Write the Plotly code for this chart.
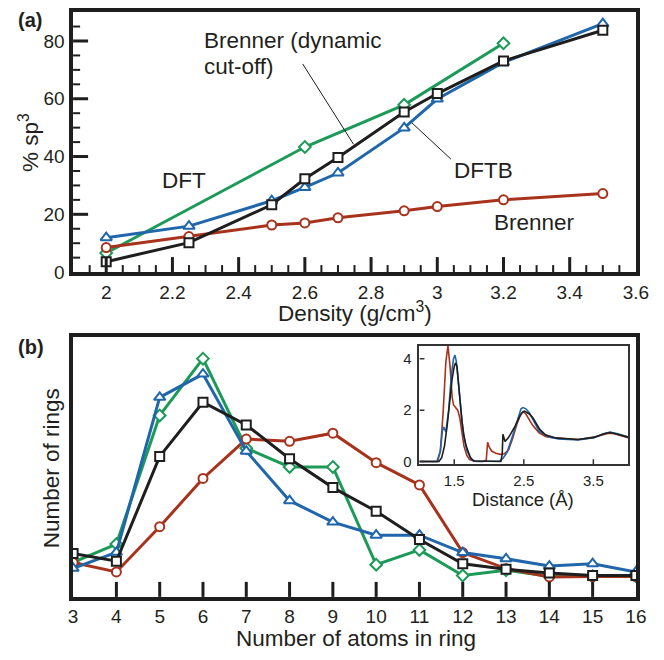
import numpy as np
import plotly.graph_objects as go

# ---------------- Panel (a): % sp3 vs density ----------------
density = [2.0, 2.25, 2.5, 2.6, 2.7, 2.9, 3.0, 3.2, 3.5]
dft_density = [2.0, 2.6, 2.9, 3.2]
sp3_dft = [6.6, 43.3, 57.9, 79.2]
sp3_dftb = [11.9, 15.9, 24.7, 29.3, 34.3, 49.9, 59.9, 72.6, 86.0]
sp3_brenner_dyn = [3.6, 10.2, 23.3, 32.3, 39.7, 55.4, 61.8, 73.1, 83.7]
sp3_brenner = [8.5, 12.3, 16.3, 17.0, 18.8, 21.2, 22.7, 25.0, 27.2]

# ---------------- Panel (b): ring statistics (arbitrary units) ----------------
ring_size = list(range(3, 17))
rings_dft = [35, 53.7, 184.3, 242, 151, 132, 132, 32.7, 47.7, 21.7, 27, 21, 21, 21]
rings_dftb = [29, 45.3, 202.7, 226.3, 148, 97.7, 76, 62.7, 62.7, 45, 38.7, 31.3, 33.7, 25.3]
rings_brenner_dyn = [44, 36.3, 142.7, 197.7, 174.7, 140.3, 111, 87, 58.3, 33.7, 28, 24.3, 21.7, 21.7]
rings_brenner = [35, 25.3, 71.3, 120.3, 160.3, 158, 166.3, 136.3, 113.7, 45, 28.7, 20.3, 20.7, 20.7]

# ---------------- Inset: radial distribution ----------------
dist_brenner = [1.00, 1.26, 1.30, 1.34, 1.38, 1.41, 1.44, 1.47, 1.49, 1.52, 1.55, 1.58, 1.61, 1.64,
                1.68, 1.72, 1.78, 1.90, 1.96, 1.98, 2.00, 2.04, 2.10, 2.16, 2.22, 2.28, 2.34, 2.40,
                2.45, 2.49, 2.53, 2.58, 2.63, 2.72, 2.82, 3.00, 3.28, 3.51, 3.65, 3.72, 3.80, 3.90, 4.00]
g_brenner = [0.0, 0.0, 0.4, 1.9, 3.9, 4.5, 3.7, 2.5, 2.2, 2.1, 2.0, 1.7, 1.2, 0.6,
             0.25, 0.08, 0.02, 0.0, 0.05, 0.75, 0.58, 0.4, 0.32, 0.28, 0.3, 0.45, 0.9, 1.45,
             1.8, 1.95, 1.85, 1.6, 1.4, 1.12, 0.97, 0.9, 0.86, 0.95, 1.05, 1.1, 1.08, 1.0, 0.93]
dist_dftb = [1.00, 1.25, 1.30, 1.33, 1.35, 1.38, 1.42, 1.46, 1.49, 1.51, 1.53, 1.56, 1.59, 1.63,
             1.68, 1.75, 1.82, 2.15, 2.20, 2.26, 2.33, 2.40, 2.46, 2.49, 2.53, 2.58, 2.63, 2.72,
             2.86, 3.00, 3.28, 3.51, 3.65, 3.74, 3.85, 4.00]
g_dftb = [0.0, 0.0, 0.4, 1.2, 1.34, 1.15, 2.0, 3.4, 4.0, 4.14, 3.9, 3.1, 2.2, 1.1,
          0.43, 0.07, 0.0, 0.02, 0.12, 0.36, 0.93, 1.57, 2.05, 2.1, 2.05, 1.9, 1.63, 1.18,
          0.96, 0.88, 0.84, 0.93, 1.08, 1.15, 1.08, 0.95]
dist_brenner_dyn = [1.00, 1.28, 1.32, 1.36, 1.40, 1.44, 1.47, 1.50, 1.52, 1.54, 1.565, 1.59, 1.61,
                    1.64, 1.67, 1.73, 1.78, 2.17, 2.19, 2.20, 2.23, 2.28, 2.33, 2.375, 2.43, 2.47,
                    2.51, 2.58, 2.63, 2.68, 2.73, 2.81, 2.96, 3.28, 3.51, 3.65, 3.74, 3.85, 4.00]
g_brenner_dyn = [0.0, 0.0, 0.15, 0.6, 1.44, 2.5, 3.22, 3.7, 3.84, 3.7, 2.84, 2.1, 1.57,
                 1.0, 0.62, 0.17, 0.02, 0.0, 0.3, 1.06, 0.78, 0.93, 1.15, 1.38, 1.7, 1.89,
                 1.96, 1.85, 1.7, 1.5, 1.25, 1.04, 0.92, 0.86, 0.94, 1.08, 1.13, 1.06, 0.95]

# axis ranges / tick spacing
XA_RANGE, YA_RANGE = [1.9, 3.6], [0, 90]
XB_RANGE, YB_RANGE = [3, 16], [0, 264]
XI_RANGE, YI_RANGE = [1.0, 4.0], [-0.1, 4.5]
XI_TICKS, YI_TICKS = [1.5, 2.5, 3.5], [0, 2, 4]

GREEN = "#1c9a58"
BLUE = "#1f66aa"
RED = "#a8321c"
BLACK = "#1e1e1e"
TXT = "#231f20"
FONT = "Liberation Sans, Arial, sans-serif"

W, H = 664, 660
def px(x):
    return x / W
def py(y):
    return 1 - y / H

fig = go.Figure()

def series(x, y, color, symbol, size, xa, ya):
    fig.add_trace(go.Scatter(
        x=x, y=y, mode="lines+markers", xaxis=xa, yaxis=ya,
        line=dict(color=color, width=3),
        marker=dict(symbol=symbol, size=size, color="white",
                    line=dict(color=color, width=2)),
        showlegend=False, hoverinfo="skip"))

# panel a
series(dft_density, sp3_dft, GREEN, "diamond", 9, "x", "y")
series(density, sp3_brenner, RED, "circle", 9, "x", "y")
series(density, sp3_dftb, BLUE, "triangle-up", 10, "x", "y")
series(density, sp3_brenner_dyn, BLACK, "square", 9, "x", "y")

# panel b
series(ring_size, rings_dft, GREEN, "diamond", 9, "x2", "y2")
series(ring_size, rings_brenner, RED, "circle", 9, "x2", "y2")
series(ring_size, rings_dftb, BLUE, "triangle-up", 10, "x2", "y2")
series(ring_size, rings_brenner_dyn, BLACK, "square", 9, "x2", "y2")

# inset
for xs, ys, c in [(dist_brenner, g_brenner, RED), (dist_dftb, g_dftb, BLUE),
                  (dist_brenner_dyn, g_brenner_dyn, BLACK)]:
    fig.add_trace(go.Scatter(x=xs, y=ys, mode="lines", xaxis="x3", yaxis="y3",
                             line=dict(color=c, width=1.6), showlegend=False,
                             hoverinfo="skip"))

xdom = [px(70), px(648.5)]
tfont = dict(family=FONT, size=19, color=TXT)
frame = dict(showline=True, mirror=True, linecolor=BLACK, linewidth=3.5,
             showgrid=False, zeroline=False, ticks="", tickfont=tfont)

fig.update_layout(
    width=W, height=H, autosize=False,
    margin=dict(l=0, r=0, t=0, b=0),
    paper_bgcolor="white", plot_bgcolor="white",
    font=dict(family=FONT, color=TXT),
    xaxis=dict(domain=xdom, range=XA_RANGE, anchor="y", tick0=2, dtick=0.2,
               ticklabelstandoff=0, **frame),
    yaxis=dict(domain=[py(276.7), py(12.3)], range=YA_RANGE, anchor="x", tick0=0, dtick=20,
               ticklabelstandoff=1, **frame),
    xaxis2=dict(domain=xdom, range=XB_RANGE, anchor="y2", tick0=3, dtick=1,
                ticklabelstandoff=0, **frame),
    yaxis2=dict(domain=[py(607), py(342.7)], range=YB_RANGE, anchor="x2",
                showline=True, mirror=True, linecolor=BLACK, linewidth=3.5,
                showgrid=False, zeroline=False, ticks="", showticklabels=False),
    xaxis3=dict(domain=[px(426), px(640.5)], range=XI_RANGE, anchor="y3",
                tickvals=XI_TICKS, showline=True, mirror=True, linecolor="#333",
                linewidth=1.5, showgrid=False, zeroline=False, ticks="",
                ticklabelstandoff=2, tickfont=dict(family=FONT, size=15, color=TXT)),
    yaxis3=dict(domain=[py(472), py(351.7)], range=YI_RANGE, anchor="x3",
                tickvals=YI_TICKS, showline=True, mirror=True, linecolor="#333",
                linewidth=1.5, showgrid=False, zeroline=False, ticks="",
                ticklabelstandoff=3, tickfont=dict(family=FONT, size=15, color=TXT)),
)

# ---- inward tick marks, placed through the axes' own scales ----
def xticks(vals, xref, yref, ybase, length, width, color=BLACK):
    for v in vals:
        fig.add_shape(type="line", xref=xref, yref=yref, ysizemode="pixel", yanchor=ybase,
                      x0=v, x1=v, y0=0, y1=length, layer="above",
                      line=dict(color=color, width=width))

def yticks(vals, xref, yref, xbase, length, width, color=BLACK):
    for v in vals:
        fig.add_shape(type="line", xref=xref, yref=yref, xsizemode="pixel", xanchor=xbase,
                      y0=v, y1=v, x0=0, x1=length, layer="above",
                      line=dict(color=color, width=width))

xa_major = np.round(np.arange(2.0, 3.6001, 0.2), 3)
xa_minor = [v for v in np.round(np.arange(1.95, 3.6001, 0.05), 3)
            if min(abs(v - m) for m in xa_major) > 1e-6 and v < 3.59]
ya_major = np.arange(20, 81, 20)
ya_minor = [v for v in np.arange(5, 90, 5) if v % 20 != 0]
xb_major = np.arange(4, 16, 1)

xticks(xa_major[:-1], "x", "y", YA_RANGE[0], 15, 3)
xticks(xa_minor, "x", "y", YA_RANGE[0], 7, 2)
yticks(ya_major, "x", "y", XA_RANGE[0], 15, 3)
yticks(ya_minor, "x", "y", XA_RANGE[0], 7, 2)
xticks(xb_major, "x2", "y2", YB_RANGE[0], 15, 3)
xticks(XI_TICKS, "x3", "y3", YI_RANGE[0], 5, 1.5, "#333")
yticks(YI_TICKS, "x3", "y3", XI_RANGE[0], 5, 1.5, "#333")

def ann(text, x, y, size=22.5, xanchor="center", yanchor="middle", angle=0, bold=False):
    fig.add_annotation(text=f"<b>{text}</b>" if bold else text,
                       x=px(x), y=py(y), xref="paper", yref="paper",
                       xanchor=xanchor, yanchor=yanchor, showarrow=False,
                       textangle=angle, font=dict(family=FONT, size=size, color=TXT))

ann("(a)", 26, 20, size=20, bold=True)
ann("(b)", 27, 353, size=20, bold=True)
ann("% sp<sup>3</sup>", 24, 145, angle=-90)
ann("Number of rings", 47.5, 476, angle=-90)
ann("Density (g/cm<sup>3</sup>)", 359.5, 317)
ann("Number of atoms in ring", 361, 649)
ann("Distance (Å)", 532.5, 508, size=18.5)
ann("Brenner (dynamic", 202, 41, xanchor="left")
ann("cut-off)", 202, 68, xanchor="left")
ann("DFT", 184.5, 183.5)
ann("DFTB", 492, 173)
ann("Brenner", 544, 226)

fig.add_shape(type="line", xref="x", yref="y", x0=2.5935, y0=72.06, x1=2.747, y1=44.25,
              line=dict(color=BLACK, width=1))
fig.add_shape(type="line", xref="x", yref="y", x0=2.9235, y0=51.64, x1=3.041, y1=39.14,
              line=dict(color=BLACK, width=1))

fig.write_html(
    "out.html",
    config={"displayModeBar": False},
    post_script="});document.body.style.margin='0';"
                "document.documentElement.style.overflow='hidden';(function(){")
